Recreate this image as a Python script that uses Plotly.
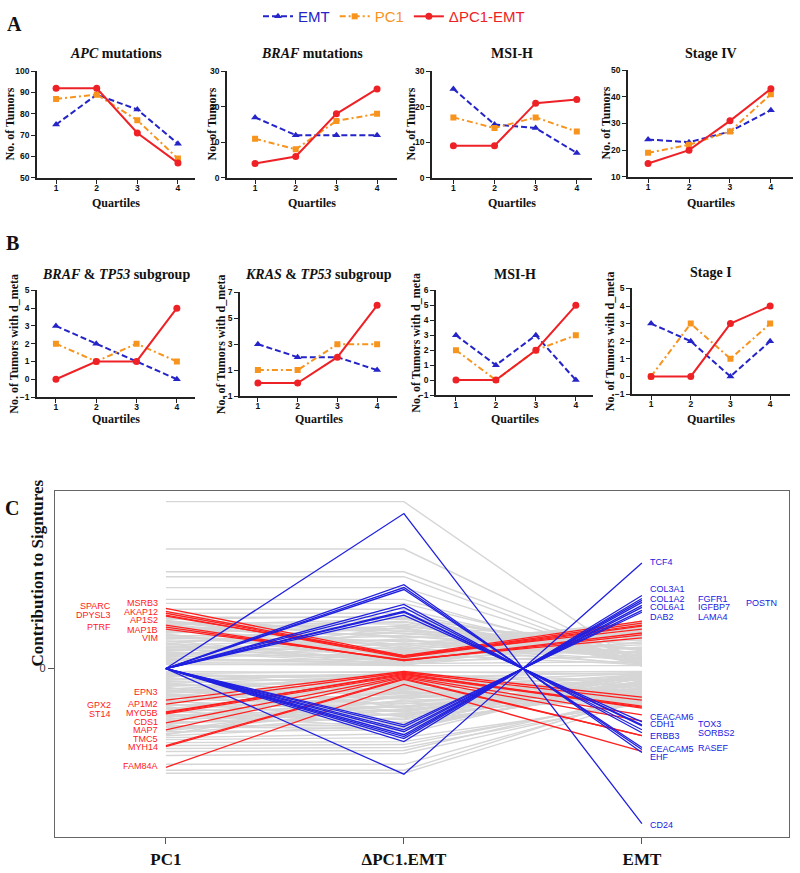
import plotly.graph_objects as go

# ---------------- data ----------------
QUARTILES = [1, 2, 3, 4]

# panel A: number of tumors per signature quartile
APC_EMT = [75, 89, 82, 66]
APC_PC1 = [87, 89, 77, 59]
APC_DELTA = [92, 92, 71, 57]
BRAF_EMT = [17, 12, 12, 12]
BRAF_PC1 = [11, 8, 16, 18]
BRAF_DELTA = [4, 6, 18, 25]
MSI_EMT = [25, 15, 14, 7]
MSI_PC1 = [17, 14, 17, 13]
MSI_DELTA = [9, 9, 21, 22]
STAGE4_EMT = [24, 23, 27, 35]
STAGE4_PC1 = [19, 22, 27, 41]
STAGE4_DELTA = [15, 20, 31, 43]

# panel B: number of tumors with d_meta
BRAF_TP53_EMT = [3, 2, 1, 0]
BRAF_TP53_PC1 = [2, 1, 2, 1]
BRAF_TP53_DELTA = [0, 1, 1, 4]
KRAS_TP53_EMT = [3, 2, 2, 1]
KRAS_TP53_PC1 = [1, 1, 3, 3]
KRAS_TP53_DELTA = [0, 0, 2, 6]
MSI_B_EMT = [3, 1, 3, 0]
MSI_B_PC1 = [2, 0, 2, 3]
MSI_B_DELTA = [0, 0, 2, 5]
STAGE1_EMT = [3, 2, 0, 2]
STAGE1_PC1 = [0, 3, 1, 3]
STAGE1_DELTA = [0, 0, 3, 4]

# panel C: gene contributions (arbitrary units) on the three signatures
SIG_AXES = ["PC1", "ΔPC1.EMT", "EMT"]

RED_GENES = ["MSRB3", "SPARC", "AKAP12", "DPYSL3", "AP1S2", "PTRF", "MAP1B", "VIM",
             "EPN3", "AP1M2", "MYO5B", "GPX2", "ST14", "CDS1", "MAP7", "TMC5", "MYH14", "FAM84A"]
RED_PC1 = [61, 58, 56, 54, 53, 44, 42, 40, -32, -36, -44, -45, -46, -55, -62, -78, -79, -100]
RED_DELTA = [13, 12, 12, 11, 13, 8, 8, 9, -3, -4, -6, -5, -7, -8, -9, -10, -11, -16]
RED_EMT = [48, 46, 44, 43, 40, 36, 34, 31, -29, -32, -38, -40, -39, -47, -53, -68, -68, -84]

BLUE_GENES = ["TCF4", "COL3A1", "COL1A2", "FGFR1", "POSTN", "COL6A1", "IGFBP7", "LAMA4", "DAB2",
              "CEACAM6", "CDH1", "TOX3", "SORBS2", "ERBB3", "CEACAM5", "RASEF", "EHF", "CD24"]
BLUE_PC1 = [0, 0, 0, 0, 0, 0, 0, 0, 0, 0, 0, 0, 0, 0, 0, 0, 0, 0]
BLUE_DELTA = [-107, -74, -71, -69, -67, -64, -62, -59, -57, 54, 57, 58, 62, 65, 80, 82, 85, 157]
BLUE_EMT = [107, 74, 71, 69, 67, 64, 62, 59, 57, -54, -57, -58, -62, -65, -80, -82, -85, -157]

# remaining genes (grey)
GRAY_PC1 = [169, 121, 98, 93, 82, 70, 66, 60, 56, 52,
            50, 48, 47, 45, 44, 42, 41, 39, 38, 36, 35, 33, 32, 30, 29, 27,
            26, 24, 23, 21, 20, 18, 17, 15, 14, 12, 11, 9, 8, 6, 5, 4,
            49, 46, 43, 40, 37, 34, 31, 28, 25, 22, 19, 16, 13, 10, 7, 51, 47, 37, 25, 12,
            -3, -5, -6, -8, -10, -11, -13, -15, -16, -18, -20, -21, -23, -25,
            -26, -28, -30, -31, -33, -35, -36, -38, -40, -41, -43, -45, -46, -48,
            -50, -51, -53, -55, -56, -58, -60, -62, -64, -66, -68, -70,
            -4, -7, -9, -12, -14, -17, -19, -22, -24, -27, -29, -32, -34, -37, -39,
            -42, -44, -47, -49, -52, -54, -57, -59, -63, -67,
            -72, -75, -78, -81, -84, -88, -97, -103, -106]
GRAY_DELTA = [169, 121, 98, 93, 82, 70, 66, 60, 56, 52,
              53, 31, 45, 22, 50, 38, 12, 47, 27, 43, 8, 36, 19, 41, 25, 33,
              6, 29, 16, 24, 10, 21, 5, 18, 13, 15, 4, 9, 7, 5, 3, 4,
              20, 40, 15, 33, 48, 11, 28, 7, 44, 17, 30, 9, 38, 6, 26, 35, 24, 51, 3, 42,
              -4, -3, -9, -6, -14, -5, -18, -8, -22, -12, -27, -7, -31, -16,
              -36, -10, -40, -20, -44, -13, -48, -25, -52, -17, -56, -29, -60, -33,
              -23, -46, -38, -50, -42, -58, -54, -35, -62, -45, -57, -66,
              -20, -11, -30, -5, -39, -15, -49, -24, -4, -43, -19, -55, -9, -34, -58,
              -28, -12, -47, -38, -21, -51, -32, -61, -41, -27,
              -70, -74, -77, -80, -83, -86, -97, -103, -106]
GRAY_EMT = [2, 5, 8, 4, 6, 3, 7, 5, 9, 4,
            12, 40, 18, 46, 6, 28, 44, 9, 33, 15, 48, 20, 37, 10, 30, 14,
            42, 11, 35, 8, 26, 5, 39, 17, 24, 4, 32, 21, 13, 7, 3, 22,
            45, 10, 36, 20, 5, 41, 16, 38, 8, 29, 3, 34, 13, 27, 11, 25, 47, 19, 43, 31,
            -3, -6, -4, -12, -5, -18, -8, -24, -6, -28, -9, -33, -10, -22,
            -7, -30, -11, -26, -14, -35, -16, -31, -19, -36, -21, -27, -15, -32,
            -34, -13, -29, -20, -25, -17, -23, -36, -12, -30, -19, -8,
            -15, -27, -9, -35, -20, -11, -4, -31, -25, -13, -34, -7, -29, -18, -3,
            -23, -36, -10, -16, -33, -6, -26, -14, -21, -30,
            -36, -34, -31, -35, -28, -33, -30, -27, -32]

# ---------------- style / layout ----------------
W, H = 800, 873
EMT_COLOR = "#2424c8"
PC1_COLOR = "#f7941d"
DELTA_COLOR = "#ee2226"
C_RED = "#ff2020"
C_BLUE = "#2020e0"
C_GRAY = "#d6d6d6"
SERIF = "Liberation Serif, Times New Roman, serif"
SANS = "Liberation Sans, Arial, sans-serif"
AXIS_COLOR = "#222222"


def fx(p):
    return p / W


def fy(p):
    return 1 - p / H


small_panels = [
    dict(title="<i>APC</i> mutations", series=(APC_EMT, APC_PC1, APC_DELTA),
         yrange=[50, 100], tick0=50, dtick=10, ylabel="No. of Tumors"),
    dict(title="<i>BRAF</i> mutations", series=(BRAF_EMT, BRAF_PC1, BRAF_DELTA),
         yrange=[0, 30], tick0=0, dtick=10, ylabel="No. of Tumors"),
    dict(title="MSI-H", series=(MSI_EMT, MSI_PC1, MSI_DELTA),
         yrange=[0, 30], tick0=0, dtick=10, ylabel="No. of Tumors"),
    dict(title="Stage IV", series=(STAGE4_EMT, STAGE4_PC1, STAGE4_DELTA),
         yrange=[10, 50], tick0=10, dtick=10, ylabel="No. of Tumors"),
    dict(title="<i>BRAF</i> &amp; <i>TP53</i> subgroup", series=(BRAF_TP53_EMT, BRAF_TP53_PC1, BRAF_TP53_DELTA),
         yrange=[-1, 5], tick0=-1, dtick=1, ylabel="No. of Tumors with d_meta"),
    dict(title="<i>KRAS</i> &amp; <i>TP53</i> subgroup", series=(KRAS_TP53_EMT, KRAS_TP53_PC1, KRAS_TP53_DELTA),
         yrange=[-1, 7], tick0=-1, dtick=2, ylabel="No. of Tumors with d_meta"),
    dict(title="MSI-H", series=(MSI_B_EMT, MSI_B_PC1, MSI_B_DELTA),
         yrange=[-1, 6], tick0=-1, dtick=1, ylabel="No. of Tumors with d_meta"),
    dict(title="Stage I", series=(STAGE1_EMT, STAGE1_PC1, STAGE1_DELTA),
         yrange=[-1, 5], tick0=-1, dtick=1, ylabel="No. of Tumors with d_meta"),
]

# pixel boxes (left, right, top, bottom), x ranges and label positions
SMALL_BOXES = [(37, 195, 66, 174), (227, 397, 66, 174), (432, 592, 66, 174), (628, 793, 65, 173),
               (37, 195, 288, 396), (240, 397, 290, 395), (436, 593, 288, 394), (632, 790, 286, 393)]
SMALL_XRANGES = [[0.53, 4.42], [0.31, 4.49], [0.48, 4.37], [0.51, 4.54],
                 [0.53, 4.45], [0.55, 4.5], [0.5, 4.43], [0.52, 4.5]]
YLABEL_X = [10, 212, 411, 606, 14, 221, 416, 610]
TITLE_Y = [48, 48, 48, 48, 272, 272, 272, 270]
XLABEL_Y = [200, 200, 200, 200, 418, 418, 418, 418]

# label spots for panel C genes: (x in axis units, y in data units)
LEFT_COL1, LEFT_COL2 = -0.223, -0.025
RIGHT_COL1, RIGHT_COL2, RIGHT_COL3 = 2.025, 2.227, 2.429
RED_LABELS = [
    ("SPARC", LEFT_COL1, 63), ("DPYSL3", LEFT_COL1, 54), ("PTRF", LEFT_COL1, 42),
    ("GPX2", LEFT_COL1, -37), ("ST14", LEFT_COL1, -46),
    ("MSRB3", LEFT_COL2, 66), ("AKAP12", LEFT_COL2, 57), ("AP1S2", LEFT_COL2, 49),
    ("MAP1B", LEFT_COL2, 39), ("VIM", LEFT_COL2, 31), ("EPN3", LEFT_COL2, -24),
    ("AP1M2", LEFT_COL2, -36), ("MYO5B", LEFT_COL2, -45), ("CDS1", LEFT_COL2, -54),
    ("MAP7", LEFT_COL2, -62), ("TMC5", LEFT_COL2, -71), ("MYH14", LEFT_COL2, -79),
    ("FAM84A", LEFT_COL2, -99),
]
BLUE_LABELS = [
    ("TCF4", RIGHT_COL1, 108), ("COL3A1", RIGHT_COL1, 81), ("COL1A2", RIGHT_COL1, 70),
    ("COL6A1", RIGHT_COL1, 62), ("DAB2", RIGHT_COL1, 52), ("CEACAM6", RIGHT_COL1, -49),
    ("CDH1", RIGHT_COL1, -56), ("ERBB3", RIGHT_COL1, -68), ("CEACAM5", RIGHT_COL1, -81),
    ("EHF", RIGHT_COL1, -90), ("CD24", RIGHT_COL1, -158),
    ("FGFR1", RIGHT_COL2, 70), ("IGFBP7", RIGHT_COL2, 62), ("LAMA4", RIGHT_COL2, 52),
    ("TOX3", RIGHT_COL2, -56), ("SORBS2", RIGHT_COL2, -65), ("RASEF", RIGHT_COL2, -80),
    ("POSTN", RIGHT_COL3, 66),
]

fig = go.Figure()
annotations = []
layout_axes = {}

for i, p in enumerate(small_panels):
    n = i + 1
    xa = "x" if n == 1 else f"x{n}"
    ya = "y" if n == 1 else f"y{n}"
    emt, pc1, delta = p["series"]
    for vals, name, color, dash, sym, size in (
        (emt, "EMT", EMT_COLOR, "6px,3px", "triangle-up", 7),
        (pc1, "PC1", PC1_COLOR, "6px,3px,2px,3px", "square", 6),
        (delta, "ΔPC1-EMT", DELTA_COLOR, "solid", "circle", 7),
    ):
        fig.add_trace(go.Scatter(
            x=QUARTILES, y=vals, xaxis=xa, yaxis=ya, mode="lines+markers",
            name=f"<span style='color:{color}'>{name}</span>", legendgroup=name,
            showlegend=(n == 1),
            line=dict(color=color, width=2, dash=dash),
            marker=dict(symbol=sym, size=size, color=color),
        ))
    l, r, t, b = SMALL_BOXES[i]
    common = dict(showline=True, linecolor=AXIS_COLOR, linewidth=1.5, ticks="outside",
                  ticklen=4, tickwidth=1.2, tickcolor=AXIS_COLOR, showgrid=False, zeroline=False,
                  tickfont=dict(family=SANS, size=8.5, color="#111", weight="bold"))
    layout_axes["xaxis" if n == 1 else f"xaxis{n}"] = dict(
        domain=[fx(l), fx(r)], range=SMALL_XRANGES[i], anchor=ya,
        tickvals=QUARTILES, ticklabelstandoff=-3, **common)
    layout_axes["yaxis" if n == 1 else f"yaxis{n}"] = dict(
        domain=[fy(b), fy(t)], range=p["yrange"], anchor=xa,
        tick0=p["tick0"], dtick=p["dtick"], **common)
    cx = (l + r) / 2
    annotations.append(dict(text=p["title"], x=fx(cx), y=fy(TITLE_Y[i]), xref="paper", yref="paper",
                            showarrow=False, xanchor="center", yanchor="middle",
                            font=dict(family=SERIF, size=14, color="#111", weight="bold")))
    annotations.append(dict(text="Quartiles", x=fx(cx), y=fy(XLABEL_Y[i]), xref="paper", yref="paper",
                            showarrow=False, xanchor="center", yanchor="middle",
                            font=dict(family=SERIF, size=12, color="#111", weight="bold")))
    annotations.append(dict(text=p["ylabel"], x=fx(YLABEL_X[i]), y=fy((t + b) / 2), xref="paper",
                            yref="paper", showarrow=False, xanchor="center", yanchor="middle",
                            textangle=-90,
                            font=dict(family=SERIF, size=12, color="#111", weight="bold")))


def polyline(rows):
    xs, ys = [], []
    for a, b, c in rows:
        xs += [0, 1, 2, None]
        ys += [a, b, c, None]
    return xs, ys


for pc1, delta, emt, color, width in (
    (GRAY_PC1, GRAY_DELTA, GRAY_EMT, C_GRAY, 1.4),
    (RED_PC1, RED_DELTA, RED_EMT, C_RED, 1.3),
    (BLUE_PC1, BLUE_DELTA, BLUE_EMT, C_BLUE, 1.3),
):
    xs, ys = polyline(zip(pc1, delta, emt))
    fig.add_trace(go.Scatter(x=xs, y=ys, xaxis="x9", yaxis="y9", mode="lines",
                             line=dict(color=color, width=width), showlegend=False,
                             hoverinfo="skip"))

layout_axes["xaxis9"] = dict(
    domain=[fx(55), fx(789)], range=[-0.466, 2.618], anchor="y9",
    tickvals=[0, 1, 2], ticktext=SIG_AXES, ticks="outside", ticklen=6, tickcolor="#555",
    showline=True, mirror=True, linecolor="#666", linewidth=1.2, showgrid=False, zeroline=False,
    tickfont=dict(family=SERIF, size=17, color="#111", weight="bold"))
layout_axes["yaxis9"] = dict(
    domain=[fy(842), fy(491)], range=[-171, 180], anchor="x9",
    tickvals=[0], ticktext=["0"], ticks="outside", ticklen=6, tickcolor="#555",
    showline=True, mirror=True, linecolor="#666", linewidth=1.2, showgrid=False, zeroline=False,
    tickfont=dict(family=SANS, size=11, color="#333"))

for name, x, y in RED_LABELS:
    annotations.append(dict(text=name, x=x, y=y, xref="x9", yref="y9", showarrow=False,
                            xanchor="right", yanchor="middle",
                            font=dict(family=SANS, size=9, color=C_RED)))
for name, x, y in BLUE_LABELS:
    annotations.append(dict(text=name, x=x, y=y, xref="x9", yref="y9", showarrow=False,
                            xanchor="left", yanchor="middle",
                            font=dict(family=SANS, size=9, color=C_BLUE)))

annotations.append(dict(text="Contribution to Signtures", x=fx(26), y=fy(671), xref="paper",
                        yref="paper", showarrow=False, textangle=-90,
                        font=dict(family=SERIF, size=17, color="#111", weight="bold")))

for letter, (px, py) in {"A": (14, 18), "B": (12, 240), "C": (12, 508)}.items():
    annotations.append(dict(text=letter, x=fx(px), y=fy(py), xref="paper", yref="paper",
                            showarrow=False, xanchor="center", yanchor="middle",
                            font=dict(family=SERIF, size=20, color="#111", weight="bold")))

fig.update_layout(
    width=W, height=H,
    margin=dict(l=0, r=0, t=0, b=0),
    paper_bgcolor="white", plot_bgcolor="white",
    annotations=annotations,
    legend=dict(orientation="h", x=fx(258), y=fy(-6), xanchor="left", yanchor="top",
                font=dict(family=SANS, size=15), bgcolor="rgba(0,0,0,0)", itemwidth=30,
                tracegroupgap=0),
    **layout_axes,
)

# page body has a default margin; drop it so the figure sits at the window corner
fig.write_html("out.html", config={"displayModeBar": False},
               post_script="document.body.style.margin='0';")
